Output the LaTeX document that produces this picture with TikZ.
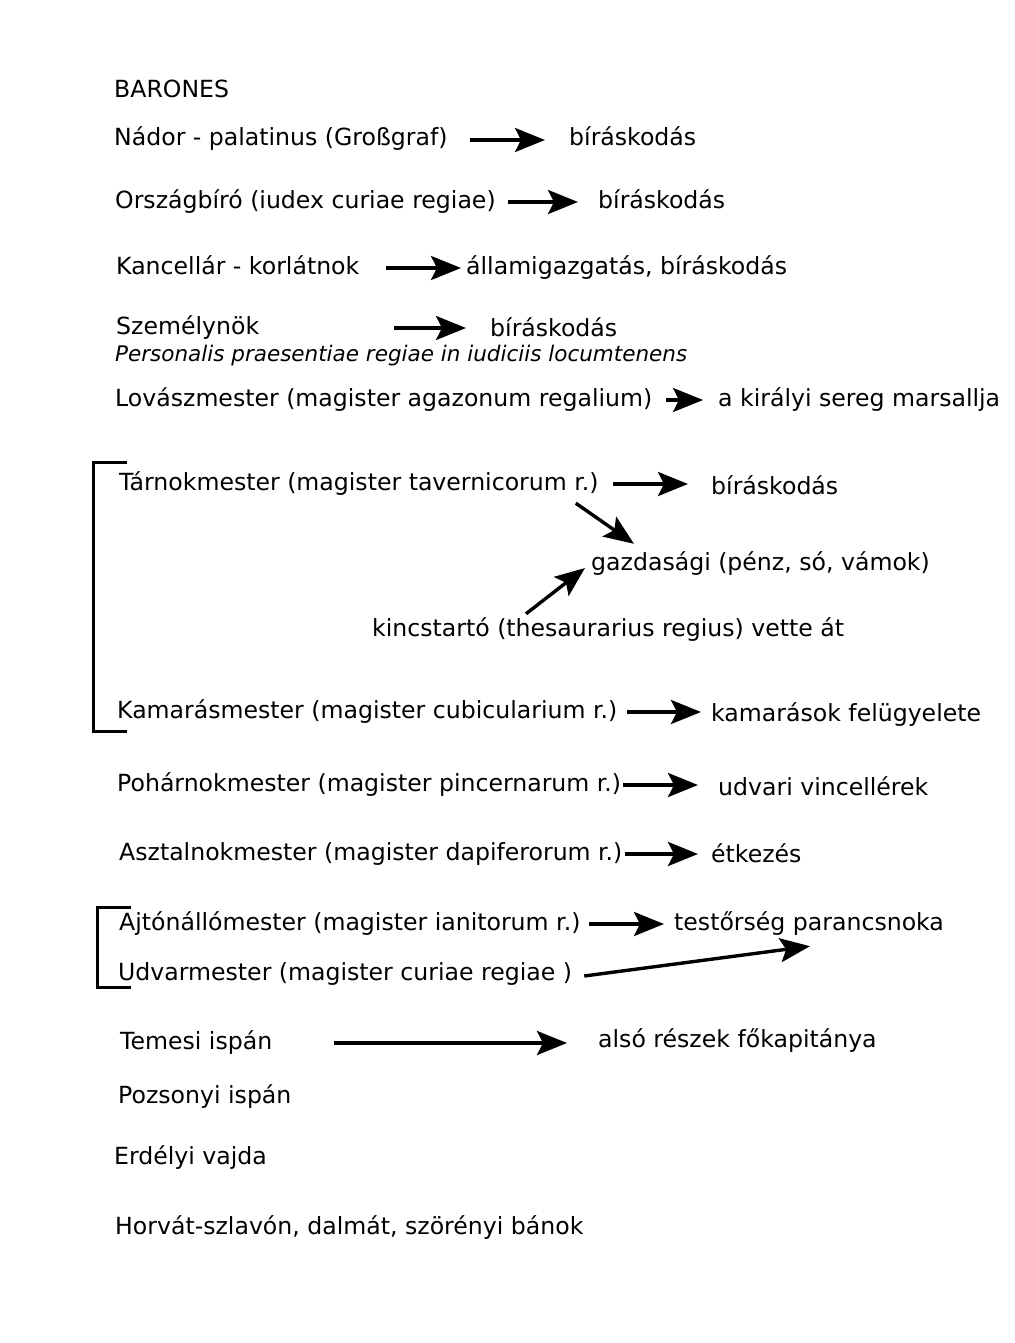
\documentclass[tikz,border=0pt]{standalone}
\usepackage{fontspec}
\setmainfont{DejaVu Sans}
\usetikzlibrary{arrows.meta}
\begin{document}
\begin{tikzpicture}[x=1pt,y=1pt,
  lbl/.style={anchor=base west, inner sep=0pt, text height=17pt, text depth=5pt, font=\fontsize{23.6}{28}\selectfont},
  ital/.style={anchor=base west, inner sep=0pt, font=\fontsize{21.5}{25}\selectfont\itshape},
  arr/.style={line width=3.4pt, -{Stealth[length=30pt,width=24pt,inset=6pt]}},
  brk/.style={line width=3pt}]
\useasboundingbox (0,0) rectangle (1014,-1343);
\fill[white] (0,0) rectangle (1014,-1343);

\node[lbl] (bar) at (114,-98) {BARONES};

\node[lbl] (nador) at (114,-146) {Nádor - palatinus (Großgraf)};
\node[lbl] (b1) at (569,-146) {bíráskodás};
\draw[arr, shorten <=22pt, shorten >=24pt] (nador.east) -- (nador.east -| b1.west);

\node[lbl] (orsz) at (115,-208) {Országbíró (iudex curiae regiae)};
\node[lbl] (b2) at (598,-208) {bíráskodás};
\draw[arr, shorten <=12pt, shorten >=20pt] (orsz.east) -- (orsz.east -| b2.west);

\node[lbl] (kanc) at (116,-274) {Kancellár - korlátnok};
\node[lbl] (allam) at (466,-274) {államigazgatás, bíráskodás};
\draw[arr, shorten <=27pt, shorten >=5pt] (kanc.east) -- (kanc.east -| allam.west);

\node[lbl] (szem) at (116,-334) {Személynök};
\node[lbl] (b3) at (490,-336) {bíráskodás};
\draw[arr, shorten <=135pt, shorten >=24pt] (szem.east) -- (szem.east -| b3.west);
\node[ital] (pers) at (115,-361) {Personalis praesentiae regiae in iudiciis locumtenens};

\node[lbl] (lovas) at (115,-406) {Lovászmester (magister agazonum regalium)};
\node[lbl] (mars) at (718,-406) {a királyi sereg marsallja};
\draw[arr, shorten <=14pt, shorten >=15pt] (lovas.east) -- (lovas.east -| mars.west);

\node[lbl] (tarnok) at (119,-490) {Tárnokmester (magister tavernicorum r.)};
\node[lbl] (b4) at (711,-494) {bíráskodás};
\draw[arr, shorten <=14pt, shorten >=23pt] (tarnok.east) -- (tarnok.east -| b4.west);

\node[lbl] (gazd) at (591,-570) {gazdasági (pénz, só, vámok)};
\node[lbl] (kincs) at (372,-636) {kincstartó (thesaurarius regius) vette át};
\draw[arr] ([xshift=-23pt,yshift=-8pt]tarnok.south east) -- ([xshift=43pt,yshift=9pt]gazd.north west);
\draw[arr] ([xshift=154pt,yshift=5pt]kincs.north west) -- ([xshift=-6pt,yshift=2pt]gazd.base west);

\node[lbl] (kamar) at (117,-718) {Kamarásmester (magister cubicularium r.)};
\node[lbl] (kamfel) at (711,-721) {kamarások felügyelete};
\draw[arr, shorten <=10pt, shorten >=10pt] (kamar.east) -- (kamar.east -| kamfel.west);

\draw[brk] (127,-462) -- (93,-462) -- (93,-731) -- (127,-731);

\node[lbl] (pohar) at (117,-791) {Pohárnokmester (magister pincernarum r.)};
\node[lbl] (vinc) at (718,-795) {udvari vincellérek};
\draw[arr, shorten <=2pt, shorten >=20pt] (pohar.east) -- (pohar.east -| vinc.west);

\node[lbl] (asztal) at (119,-860) {Asztalnokmester (magister dapiferorum r.)};
\node[lbl] (etk) at (711,-862) {étkezés};
\draw[arr, shorten <=2pt, shorten >=13pt] (asztal.east) -- (asztal.east -| etk.west);

\node[lbl] (ajto) at (119,-930) {Ajtónállómester (magister ianitorum r.)};
\node[lbl] (test) at (674,-930) {testőrség parancsnoka};
\draw[arr, shorten <=8pt, shorten >=10pt] (ajto.east) -- (ajto.east -| test.west);

\node[lbl] (udvar) at (118,-980) {Udvarmester (magister curiae regiae )};
\draw[arr] ([xshift=12pt,yshift=-2pt]udvar.east) -- ([xshift=136pt,yshift=-11pt]test.south west);

\draw[brk] (131,-907) -- (97,-907) -- (97,-987) -- (131,-987);

\node[lbl] (temes) at (120,-1049) {Temesi ispán};
\node[lbl] (also) at (598,-1047) {alsó részek főkapitánya};
\draw[arr, shorten <=62pt, shorten >=31pt] (temes.east) -- (temes.east -| also.west);

\node[lbl] (pozs) at (118,-1103) {Pozsonyi ispán};
\node[lbl] (erd) at (114,-1164) {Erdélyi vajda};
\node[lbl] (horv) at (115,-1234) {Horvát-szlavón, dalmát, szörényi bánok};
\end{tikzpicture}
\end{document}
